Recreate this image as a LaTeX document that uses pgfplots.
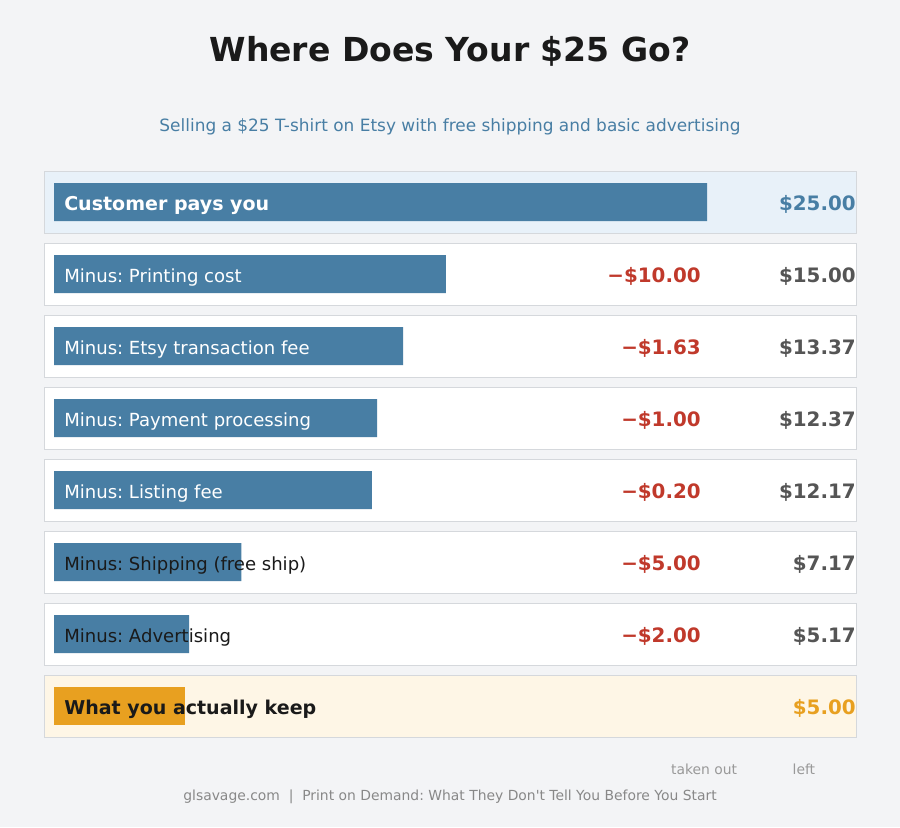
\documentclass[border=0pt]{standalone}
\usepackage{pgfplots}
\pgfplotsset{compat=1.18}
\usepackage{fontspec}
\setmainfont{DejaVu Sans}
\frenchspacing
\definecolor{bg}{HTML}{F3F4F6}
\definecolor{steel}{HTML}{487EA4}
\definecolor{gold}{HTML}{E8A020}
\definecolor{redc}{HTML}{C0392B}
\definecolor{darkt}{HTML}{1A1A1A}
\definecolor{valgray}{HTML}{555555}
\definecolor{boxedge}{HTML}{D5D8DC}
\definecolor{bluebox}{HTML}{E8F1F9}
\definecolor{goldbox}{HTML}{FEF6E6}
\definecolor{lgray}{HTML}{999999}
\definecolor{footgray}{HTML}{888888}
\newcommand{\lab}{\fontsize{13}{16}\selectfont}
\newcommand{\labb}{\fontsize{13.7}{16}\selectfont\bfseries}
\newcommand{\valb}{\fontsize{14.3}{17}\selectfont\bfseries}
\begin{document}
\begin{tikzpicture}
\fill[bg] (0pt,0pt) rectangle (648pt,-595.44pt);
\node[anchor=base,text=darkt,font=\fontsize{23.8}{28}\selectfont\bfseries] at (324pt,-43.92pt) {Where Does Your \$25 Go?};
\node[anchor=base,text=steel,font=\fontsize{12.2}{14}\selectfont] at (324pt,-94.32pt) {Selling a \$25 T-shirt on Etsy with free shipping and basic advertising};
\node[anchor=base,text=footgray,font=\fontsize{10}{12}\selectfont] at (324pt,-576pt) {glsavage.com\ \ |\ \ Print on Demand: What They Don\textquotesingle t Tell You Before You Start};
\begin{axis}[
  at={(31.68pt,-123.12pt)}, anchor=north west,
  scale only axis, width=584.64pt, height=407.52pt,
  xmin=-0.38285, xmax=30.7044,
  ymin=-0.4306, ymax=7.4306, y dir=reverse,
  hide axis, clip=false, enlargelimits=false,
]
\filldraw[fill=bluebox,draw=boxedge,line width=0.72pt] (axis cs:-0.38285,-0.4306) rectangle (axis cs:30.7044,0.4306);
\filldraw[fill=white,draw=boxedge,line width=0.72pt] (axis cs:-0.38285,0.5694) rectangle (axis cs:30.7044,1.4306);
\filldraw[fill=white,draw=boxedge,line width=0.72pt] (axis cs:-0.38285,1.5694) rectangle (axis cs:30.7044,2.4306);
\filldraw[fill=white,draw=boxedge,line width=0.72pt] (axis cs:-0.38285,2.5694) rectangle (axis cs:30.7044,3.4306);
\filldraw[fill=white,draw=boxedge,line width=0.72pt] (axis cs:-0.38285,3.5694) rectangle (axis cs:30.7044,4.4306);
\filldraw[fill=white,draw=boxedge,line width=0.72pt] (axis cs:-0.38285,4.5694) rectangle (axis cs:30.7044,5.4306);
\filldraw[fill=white,draw=boxedge,line width=0.72pt] (axis cs:-0.38285,5.5694) rectangle (axis cs:30.7044,6.4306);
\filldraw[fill=goldbox,draw=boxedge,line width=0.72pt] (axis cs:-0.38285,6.5694) rectangle (axis cs:30.7044,7.4306);
\addplot[xbar, fill=steel, draw=none, bar width=0.5278, bar shift=0pt]
  coordinates {(25,0) (15,1) (13.37,2) (12.37,3) (12.17,4) (7.17,5) (5.17,6)};
\addplot[xbar, fill=gold, draw=none, bar width=0.5278, bar shift=0pt]
  coordinates {(5,7)};
% row labels
\node[anchor=base west,inner sep=0pt,text=white,font=\labb] at (axis cs:0.3828,0.12) {Customer pays you};
\node[anchor=base west,inner sep=0pt,text=white,font=\lab] at (axis cs:0.3828,1.115) {Minus: Printing cost};
\node[anchor=base west,inner sep=0pt,text=white,font=\lab] at (axis cs:0.3828,2.115) {Minus: Etsy transaction fee};
\node[anchor=base west,inner sep=0pt,text=white,font=\lab] at (axis cs:0.3828,3.115) {Minus: Payment processing};
\node[anchor=base west,inner sep=0pt,text=white,font=\lab] at (axis cs:0.3828,4.115) {Minus: Listing fee};
\node[anchor=base west,inner sep=0pt,text=darkt,font=\lab] at (axis cs:0.3828,5.115) {Minus: Shipping (free ship)};
\node[anchor=base west,inner sep=0pt,text=darkt,font=\lab] at (axis cs:0.3828,6.115) {Minus: Advertising};
\node[anchor=base west,inner sep=0pt,text=darkt,font=\labb] at (axis cs:0.3828,7.12) {What you actually keep};
% deductions
\node[anchor=base east,inner sep=0pt,text=redc,font=\valb] at (axis cs:24.77,1.12) {−\$10.00};
\node[anchor=base east,inner sep=0pt,text=redc,font=\valb] at (axis cs:24.77,2.12) {−\$1.63};
\node[anchor=base east,inner sep=0pt,text=redc,font=\valb] at (axis cs:24.77,3.12) {−\$1.00};
\node[anchor=base east,inner sep=0pt,text=redc,font=\valb] at (axis cs:24.77,4.12) {−\$0.20};
\node[anchor=base east,inner sep=0pt,text=redc,font=\valb] at (axis cs:24.77,5.12) {−\$5.00};
\node[anchor=base east,inner sep=0pt,text=redc,font=\valb] at (axis cs:24.77,6.12) {−\$2.00};
% remaining
\node[anchor=base east,inner sep=0pt,text=steel,font=\valb] at (axis cs:30.7044,0.12) {\$25.00};
\node[anchor=base east,inner sep=0pt,text=valgray,font=\valb] at (axis cs:30.7044,1.12) {\$15.00};
\node[anchor=base east,inner sep=0pt,text=valgray,font=\valb] at (axis cs:30.7044,2.12) {\$13.37};
\node[anchor=base east,inner sep=0pt,text=valgray,font=\valb] at (axis cs:30.7044,3.12) {\$12.37};
\node[anchor=base east,inner sep=0pt,text=valgray,font=\valb] at (axis cs:30.7044,4.12) {\$12.17};
\node[anchor=base east,inner sep=0pt,text=valgray,font=\valb] at (axis cs:30.7044,5.12) {\$7.17};
\node[anchor=base east,inner sep=0pt,text=valgray,font=\valb] at (axis cs:30.7044,6.12) {\$5.17};
\node[anchor=base east,inner sep=0pt,text=gold,font=\valb] at (axis cs:30.7044,7.12) {\$5.00};
% column captions
\node[anchor=base,text=lgray,font=\fontsize{10}{12}\selectfont] at (axis cs:24.89,7.955) {taken out};
\node[anchor=base,text=lgray,font=\fontsize{10}{12}\selectfont] at (axis cs:28.71,7.955) {left};
\end{axis}
\end{tikzpicture}
\end{document}
